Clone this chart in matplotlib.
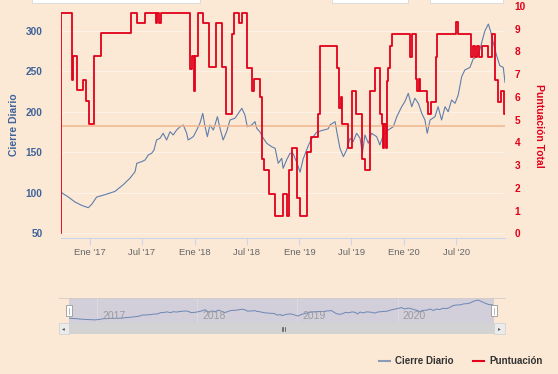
import matplotlib
matplotlib.use("Agg")
import matplotlib.pyplot as plt
from matplotlib.patches import Rectangle
from matplotlib.lines import Line2D
import pandas as pd

W, H = 558, 374
BG = '#fbe9d6'
AZUL = '#5f7eab'
ROJO = '#e2001a'

# cierre diario (lectura aproximada del gráfico)
cierre_fechas = [
    '2016-09-21', '2016-10-18', '2016-11-10', '2016-12-03', '2016-12-26', '2017-01-07',
    '2017-01-24', '2017-02-22', '2017-03-29', '2017-04-27', '2017-05-20',
    '2017-06-07', '2017-06-13', '2017-06-30', '2017-07-12', '2017-07-23', '2017-08-04',
    '2017-08-12', '2017-08-21', '2017-09-02', '2017-09-13', '2017-09-25', '2017-10-07',
    '2017-10-18', '2017-10-30', '2017-11-11', '2017-11-22', '2017-12-04', '2017-12-09',
    '2017-12-27', '2018-01-08', '2018-01-19', '2018-01-29', '2018-02-06', '2018-02-14',
    '2018-02-23', '2018-03-07', '2018-03-21', '2018-03-30', '2018-04-10', '2018-04-22',
    '2018-05-04', '2018-05-21', '2018-06-02', '2018-06-14', '2018-06-25', '2018-07-03',
    '2018-07-18', '2018-07-30', '2018-08-05', '2018-08-16', '2018-08-28', '2018-09-09',
    '2018-09-26', '2018-10-08', '2018-10-19', '2018-10-31', '2018-11-05', '2018-11-17',
    '2018-11-29', '2018-12-10', '2018-12-22', '2019-01-03', '2019-01-14', '2019-02-01',
    '2019-02-12', '2019-03-02', '2019-03-19', '2019-04-11',
    '2019-04-17', '2019-05-05', '2019-05-11', '2019-05-22', '2019-06-03', '2019-06-14',
    '2019-06-26', '2019-07-07', '2019-07-19', '2019-07-31', '2019-08-08', '2019-08-17',
    '2019-08-29', '2019-09-09', '2019-09-27', '2019-10-08', '2019-10-20', '2019-11-06',
    '2019-11-24', '2019-12-06', '2019-12-23', '2020-01-03', '2020-01-15', '2020-01-27',
    '2020-02-07', '2020-02-19', '2020-03-02', '2020-03-13', '2020-03-21', '2020-03-31',
    '2020-04-17', '2020-04-28', '2020-05-10', '2020-05-22', '2020-06-02', '2020-06-14',
    '2020-06-26', '2020-07-07', '2020-07-19', '2020-07-30',
    '2020-08-17', '2020-08-28', '2020-09-15', '2020-09-27', '2020-10-08', '2020-10-20',
    '2020-10-29', '2020-11-06', '2020-11-18', '2020-11-29', '2020-12-11', '2020-12-17',
]
cierre_valores = [
    100.9, 94.7, 88.6, 84.5, 81.6, 85.7,
    94.7, 97.7, 101.7, 110, 117.9,
    126, 136.4, 138.4, 140.5, 146.7, 148.8,
    152.8, 165.2, 167.3, 173.5, 165.2, 175.4,
    171.4, 177.5, 181.6, 183.7, 173.5, 165.2,
    169.3, 177.5, 185.8, 198.1, 181.6, 169.3,
    183.7, 177.5, 194, 179.6, 165.2, 175.4,
    189.9, 192, 198.1, 204.3, 196, 181.6,
    183.7, 187.8, 179.6, 175.4, 167.3, 161.1,
    156.9, 154.9, 136.4, 142.6, 130.2, 140.5,
    148.8, 148.2, 137.8, 125.5, 142, 158.4,
    166.6, 174.8, 176.8, 179,
    183.7, 187.8, 175.4, 154.9, 144.6, 152.8,
    167.3, 163.1, 173.5, 167.3, 148.8, 171.4,
    161.1, 173.5, 169.3, 159, 171.4, 177.5,
    181.6, 194, 206.3, 212.5, 222.8, 206.3,
    216.7, 210.5, 198.1, 189.9, 173.5, 189.9,
    194, 206.3, 189.9, 206.3, 200.1, 214.6,
    210.5, 220.7, 243.3, 251.6,
    254.8, 265.1, 269.2, 285.6, 300, 308.3,
    298, 285.6, 269.2, 256.9, 254.8, 236.3,
]

# puntuación total (escalones)
punt_fechas = [
    '2016-09-21', '2016-09-22', '2016-10-30', '2016-11-04', '2016-11-18', '2016-12-09',
    '2016-12-18', '2016-12-29', '2017-01-14', '2017-02-07', '2017-05-24', '2017-06-14',
    '2017-07-12', '2017-08-19', '2017-08-24', '2017-08-29', '2017-09-04', '2017-12-15',
    '2017-12-21', '2017-12-28', '2018-01-02', '2018-01-13', '2018-01-31', '2018-02-20',
    '2018-03-15', '2018-04-07', '2018-04-20', '2018-05-10', '2018-05-19', '2018-06-04',
    '2018-06-14', '2018-07-02', '2018-07-20', '2018-07-25', '2018-08-16', '2018-08-22',
    '2018-08-30', '2018-09-17', '2018-10-08', '2018-11-05', '2018-11-17', '2018-11-25',
    '2018-12-05', '2018-12-24', '2019-01-03', '2019-01-26', '2019-02-10', '2019-03-05',
    '2019-03-13', '2019-05-13', '2019-05-20', '2019-05-24', '2019-05-28', '2019-06-20',
    '2019-07-04', '2019-07-16', '2019-08-08', '2019-08-17', '2019-09-05', '2019-09-21',
    '2019-10-08', '2019-10-16', '2019-10-20', '2019-10-24', '2019-10-29', '2019-11-01',
    '2019-11-05', '2019-11-12', '2019-11-20', '2020-01-21', '2020-01-27', '2020-02-10',
    '2020-02-14', '2020-02-20', '2020-02-25', '2020-03-19', '2020-03-25', '2020-04-02',
    '2020-04-19', '2020-04-24', '2020-06-28', '2020-07-05', '2020-08-20', '2020-08-27',
    '2020-09-02', '2020-09-09', '2020-09-17', '2020-09-27', '2020-10-19', '2020-11-01',
    '2020-11-12', '2020-11-24', '2020-12-02', '2020-12-13', '2020-12-17',
]
punt_valores = [
    0, 9.7, 6.75, 7.8, 6.3, 6.75,
    5.8, 4.8, 7.8, 8.8, 9.7, 9.25,
    9.7, 9.25, 9.7, 9.25, 9.7, 7.25,
    7.8, 6.25, 7.8, 9.7, 9.25, 7.3,
    9.25, 7.3, 5.27, 8.75, 9.7, 9.25,
    9.7, 7.28, 6.26, 6.78, 6.0, 3.26,
    2.78, 1.75, 0.76, 1.75, 0.76, 2.78,
    3.76, 1.56, 0.76, 3.58, 4.24, 5.27,
    8.25, 7.28, 5.5, 6.0, 4.8, 3.76,
    6.26, 5.27, 3.26, 2.78, 6.26, 7.28,
    5.27, 4.8, 3.76, 4.8, 3.76, 6.7,
    7.28, 8.25, 8.75, 7.77, 8.75, 6.78,
    6.26, 6.78, 6.26, 5.76, 5.27, 5.76,
    7.77, 8.75, 9.28, 8.75, 7.77, 8.25,
    7.77, 8.25, 7.77, 8.25, 7.77, 8.75,
    6.74, 5.76, 6.26, 5.27, 5.27,
]
umbral = 4.74

ticks_fechas = ['2017-01-01', '2017-07-01', '2018-01-01', '2018-07-01',
                '2019-01-01', '2019-07-01', '2020-01-01', '2020-07-01']
ticks_labels = ["Ene '17", "Jul '17", "Ene '18", "Jul '18",
                "Ene '19", "Jul '19", "Ene '20", "Jul '20"]
nav_anios = ['2017', '2018', '2019', '2020']

plt.rcParams['font.family'] = ['Liberation Sans', 'DejaVu Sans']


def px(x0, y0, x1, y1):
    return [x0 / W, 1 - y1 / H, (x1 - x0) / W, (y1 - y0) / H]


cf = pd.to_datetime(cierre_fechas)
pf = pd.to_datetime(punt_fechas)
x_ini, x_fin = cf[0], cf[-1]

fig = plt.figure(figsize=(W / 100, H / 100), dpi=100, facecolor=BG)


def rect_px(x0, y0, x1, y1, fc, ec='none', lw=0):
    fig.patches.append(Rectangle((x0 / W, 1 - y1 / H), (x1 - x0) / W, (y1 - y0) / H,
                                 transform=fig.transFigure, facecolor=fc,
                                 edgecolor=ec, lw=lw))


# botones cortados arriba
for x0, x1 in [(32, 200), (332, 408), (430, 503)]:
    rect_px(x0, -1, x1, 3, 'white', '#d8d8d8', 0.6)

ax = fig.add_axes(px(60.7, 6, 505, 238))
ax.set_facecolor(BG)
ax.plot(cf, cierre_valores, color=AZUL, lw=0.8, zorder=3)
ax.set_ylim(44.2, 330.6)
ax.set_yticks([50, 100, 150, 200, 250, 300])
ax.set_xlim(x_ini, x_fin)
ax.set_xticks(pd.to_datetime(ticks_fechas))
ax.set_xticklabels(ticks_labels)
ax.grid(axis='y', color='#fdf2e6', lw=0.8)
ax.set_axisbelow(True)
for s in ['top', 'left', 'right']:
    ax.spines[s].set_visible(False)
ax.spines['bottom'].set_color('#ccd6eb')
ax.tick_params(axis='x', length=5, color='#ccd6eb', labelsize=6.8,
               labelcolor='#666666', pad=2)
ax.tick_params(axis='y', length=0, labelsize=7.3, labelcolor='#40639a', pad=13)
for t in ax.get_yticklabels():
    t.set_fontweight('bold')

ax2 = ax.twinx()
ax2.set_ylim(-0.207, 10)
ax2.axhline(umbral, color='#f0b58e', lw=1.1, zorder=1)
ax2.step(pf, punt_valores, where='post', color=ROJO, lw=1.3, zorder=4)
ax2.set_yticks(range(0, 11))
for s in ['top', 'left', 'right', 'bottom']:
    ax2.spines[s].set_visible(False)
ax2.tick_params(axis='y', length=0, labelsize=7.3, labelcolor=ROJO, pad=7)
for t in ax2.get_yticklabels():
    t.set_fontweight('bold')

fig.text(14 / W, 1 - 125 / H, 'Cierre Diario', rotation=90, ha='center', va='center',
         color='#40639a', fontsize=7.5, fontweight='bold')
fig.text(539 / W, 1 - 126 / H, 'Puntuación Total', rotation=270, ha='center', va='center',
         color=ROJO, fontsize=7.5, fontweight='bold')

# navegador
nav = fig.add_axes(px(69, 298, 494, 323))
nav.set_facecolor('#d2cfdb')
nav.plot(cf, cierre_valores, color='#6d87b3', lw=0.7)
nav.set_xlim(x_ini, x_fin)
nav.set_ylim(45.5, 333)
nav.set_xticks([])
nav.set_yticks([])
for s in nav.spines.values():
    s.set_visible(False)
for a in nav_anios:
    d = pd.Timestamp(a + '-01-01')
    nav.axvline(d, color='#dcd9e2', lw=0.7, zorder=0)
    nav.text(d + pd.Timedelta(days=18), 0.28, a, transform=nav.get_xaxis_transform(),
             ha='left', va='center', color='#9a9aa0', fontsize=7.5)
fig.lines.append(Line2D([58.7 / W, 505 / W], [1 - 298 / H, 1 - 298 / H],
                        transform=fig.transFigure, color='#d2ccc8', lw=0.6))

# barra de desplazamiento
rect_px(58.7, 323, 505, 334, '#e4e4e4')
rect_px(69, 323, 494, 334, '#d3d3d3')
rect_px(58.7, 323, 69, 334, '#ebebeb', '#cfcfcf', 0.5)
rect_px(494, 323, 505, 334, '#ebebeb', '#cfcfcf', 0.5)
fig.text(63.8 / W, 1 - 328.5 / H, '◂', ha='center', va='center', fontsize=4, color='#555555')
fig.text(499.5 / W, 1 - 328.5 / H, '▸', ha='center', va='center', fontsize=4, color='#555555')
for dx in (-1.5, 0, 1.5):
    fig.lines.append(Line2D([(283 + dx) / W] * 2, [1 - 326.5 / H, 1 - 330.5 / H],
                            transform=fig.transFigure, color='#444444', lw=0.5))
# asas
for hx in (69, 494):
    rect_px(hx - 3, 305, hx + 3, 316, 'white', '#999999', 0.6)
    fig.lines.append(Line2D([hx / W] * 2, [1 - 307.5 / H, 1 - 313.5 / H],
                            transform=fig.transFigure, color='#999999', lw=0.5))

# leyenda
fig.lines.append(Line2D([379 / W, 390 / W], [1 - 360.7 / H] * 2, transform=fig.transFigure,
                        color='#8c9cb6', lw=1.5))
fig.text(395 / W, 1 - 360.7 / H, 'Cierre Diario', ha='left', va='center',
         fontsize=7, fontweight='bold', color='#333333')
fig.lines.append(Line2D([473 / W, 484 / W], [1 - 360.7 / H] * 2, transform=fig.transFigure,
                        color=ROJO, lw=1.5))
fig.text(489 / W, 1 - 360.7 / H, 'Puntuación', ha='left', va='center',
         fontsize=7, fontweight='bold', color='#333333')

fig.savefig('out.png', dpi=100, facecolor=BG)
